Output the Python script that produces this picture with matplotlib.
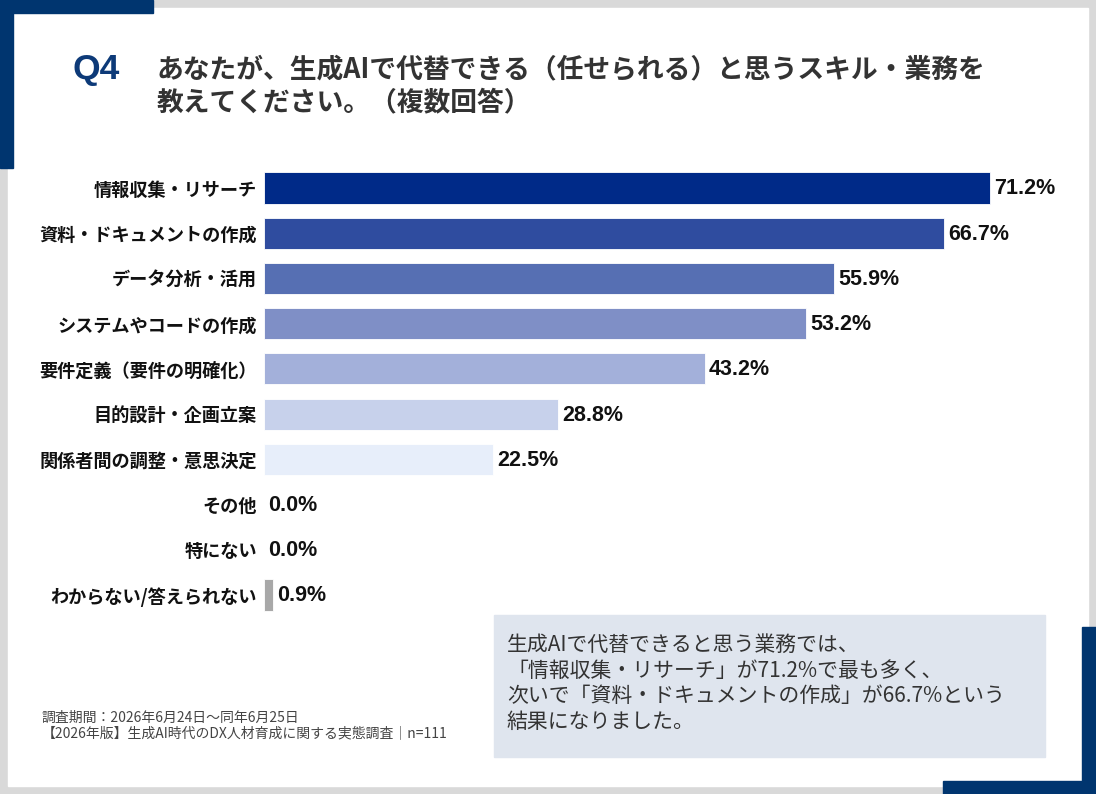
import matplotlib.pyplot as plt
from matplotlib.patches import Rectangle

plt.rcParams['font.family'] = ['Noto Sans CJK JP', 'DejaVu Sans']

# data
categories = ['情報収集・リサーチ', '資料・ドキュメントの作成', 'データ分析・活用',
              'システムやコードの作成', '要件定義（要件の明確化）', '目的設計・企画立案',
              '関係者間の調整・意思決定', 'その他', '特にない', 'わからない/答えられない']
values = [71.2, 66.7, 55.9, 53.2, 43.2, 28.8, 22.5, 0.0, 0.0, 0.9]
bar_colors = ['#002a88', '#2f4c9f', '#566fb3', '#7f8fc6', '#a3b0da', '#c7d1eb',
              '#e7eefa', '#e7eefa', '#e7eefa', '#a8a8a8']

title_lines = ['あなたが、生成AIで代替できる（任せられる）と思うスキル・業務を',
               '教えてください。（複数回答）']
note_lines = ['生成AIで代替できると思う業務では、',
              '「情報収集・リサーチ」が71.2%で最も多く、',
              '次いで「資料・ドキュメントの作成」が66.7%という',
              '結果になりました。']
foot_lines = ['調査期間：2026年6月24日～同年6月25日',
              '【2026年版】生成AI時代のDX人材育成に関する実態調査｜n=111']

W, H = 1096, 794
fig = plt.figure(figsize=(W / 100, H / 100), dpi=100)
fig.patch.set_facecolor('#d9d9d9')

# background / decoration layer in pixel coordinates
bg = fig.add_axes([0, 0, 1, 1])
bg.set_xlim(0, W)
bg.set_ylim(H, 0)
bg.axis('off')
navy = '#00356f'
bg.add_patch(Rectangle((8, 8), 1080, 778, color='white', zorder=1))
bg.add_patch(Rectangle((0, 0), 153, 13, color=navy, zorder=2))
bg.add_patch(Rectangle((0, 0), 13, 168, color=navy, zorder=2))
bg.add_patch(Rectangle((1082, 627), 14, 167, color=navy, zorder=2))
bg.add_patch(Rectangle((943, 781), 153, 13, color=navy, zorder=2))

bg.text(72, 70, 'Q4', fontsize=25.5, fontweight='bold', color='#0d3a78',
        family=['Liberation Sans', 'DejaVu Sans'], va='center', ha='left', zorder=3)
for i, line in enumerate(title_lines):
    bg.text(157, 70 + i * 32, line, fontsize=19.3, color='#333333',
            fontweight='bold', va='center', ha='left', zorder=3)

# callout box
bg.add_patch(Rectangle((494, 615), 551, 142, color='#dfe5ee', zorder=2))
for i, line in enumerate(note_lines):
    bg.text(507, 645 + i * 25.5, line, fontsize=15, color='#333333',
            va='center', ha='left', zorder=3)

for i, line in enumerate(foot_lines):
    bg.text(42, 718 + i * 16, line, fontsize=10, color='#444444',
            va='center', ha='left', zorder=3)

# bar chart axes: left edge at x=264px, ~10.2 px per percent
px_per = 10.197
left_px, right_px = 264, 1060
top_px, bot_px = 165.4, 617.6
ax = fig.add_axes([left_px / W, 1 - bot_px / H, (right_px - left_px) / W, (bot_px - top_px) / H])
ax.set_facecolor('none')
ax.set_xlim(0, (right_px - left_px) / px_per)
ax.set_ylim(len(categories) - 0.5, -0.5)
ypos = list(range(len(categories)))
ax.barh(ypos, values, height=0.69, color=bar_colors, edgecolor='#ffffff',
        linewidth=0.6, zorder=3)
for y, v in zip(ypos, values):
    ax.text(v + 0.4, y + 0.02, f'{v:.1f}%', fontsize=15.5, fontweight='bold',
            family=['Liberation Sans', 'DejaVu Sans'], color='#111111',
            va='center', ha='left')
ax.set_yticks(ypos)
ax.set_yticklabels(categories, fontsize=13.1, fontweight='bold', color='#111111')
ax.tick_params(axis='y', length=0, pad=5)
ax.set_xticks([])
for s in ax.spines.values():
    s.set_visible(False)

fig.savefig('out.png', dpi=100, facecolor=fig.get_facecolor())
